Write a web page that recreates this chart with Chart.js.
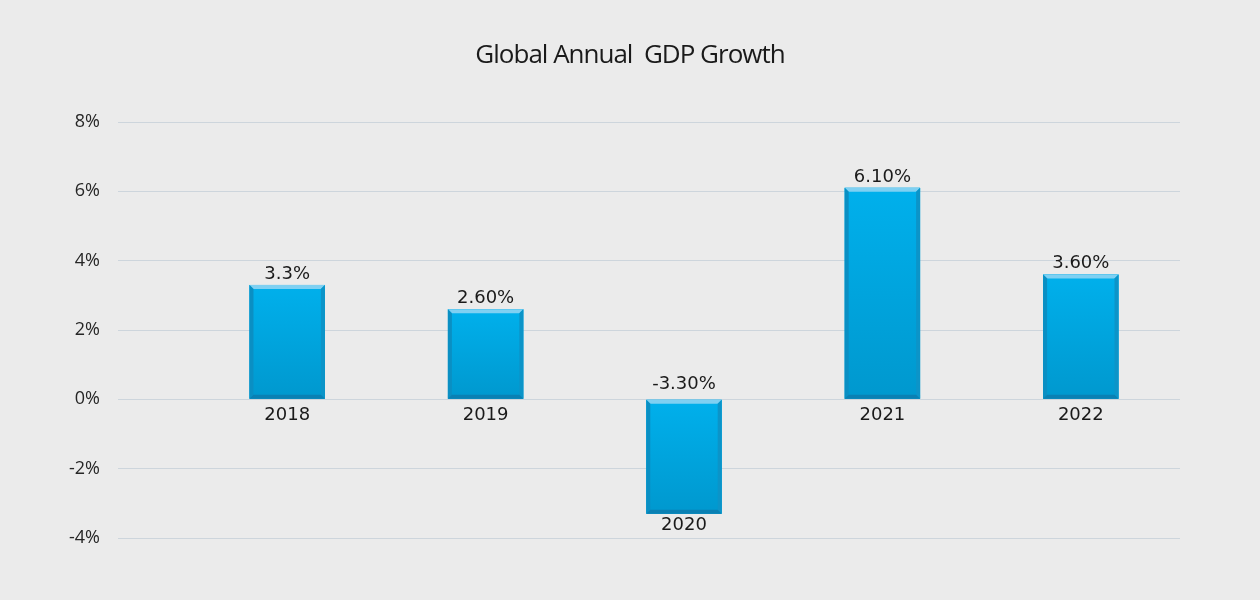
<!DOCTYPE html>
<html>
<head>
<meta charset="utf-8">
<script src="https://cdn.jsdelivr.net/npm/chart.js@4.4.1/dist/chart.umd.min.js"></script>
<style>
  html, body { margin: 0; padding: 0; background: #ebebeb; }
  #wrap { width: 1260px; height: 600px; position: relative; }
</style>
</head>
<body>
<div id="wrap"><canvas id="gdpChart"></canvas></div>
<script>
// GDP growth per year, in percent
var years = ['2018', '2019', '2020', '2021', '2022'];
var growth = [3.3, 2.6, -3.3, 6.1, 3.6];
var valueLabels = ['3.3%', '2.60%', '-3.30%', '6.10%', '3.60%'];
var axisMin = -4;
var axisMax = 8;
var axisStep = 2;
var chartTitle = 'Global Annual  GDP Growth';

// title drawn by hand so the letter spacing can be tightened
var titlePlugin = {
    id: 'titleText',
    beforeDraw: function(chart) {
        var c = chart.ctx;
        c.save();
        c.font = '26px "Open Sans"';
        c.letterSpacing = '-1px';
        c.fillStyle = '#1a1a1a';
        c.textAlign = 'center';
        c.textBaseline = 'middle';
        c.fillText(chartTitle, 630, 56);
        c.restore();
    }
};

// bevelled bars plus the value / year labels
var barDecor = {
    id: 'barDecor',
    afterDatasetsDraw: function(chart) {
        var c = chart.ctx;
        var meta = chart.getDatasetMeta(0);
        meta.data.forEach(function(bar, i) {
            var left = bar.x - bar.width / 2;
            var right = bar.x + bar.width / 2;
            var top = Math.min(bar.y, bar.base);
            var bottom = Math.max(bar.y, bar.base);
            var b = 4;

            c.save();
            var g = c.createLinearGradient(0, top, 0, bottom);
            g.addColorStop(0, '#00b0ec');
            g.addColorStop(1, '#0098ce');
            c.fillStyle = g;
            c.fillRect(left, top, right - left, bottom - top);

            // top edge
            c.fillStyle = '#7fd0f2';
            c.beginPath();
            c.moveTo(left, top); c.lineTo(right, top);
            c.lineTo(right - b, top + b); c.lineTo(left + b, top + b);
            c.closePath(); c.fill();
            // left edge
            c.fillStyle = '#0a8fc3';
            c.beginPath();
            c.moveTo(left, top); c.lineTo(left + b, top + b);
            c.lineTo(left + b, bottom - b); c.lineTo(left, bottom);
            c.closePath(); c.fill();
            // right edge
            c.fillStyle = '#0c94c8';
            c.beginPath();
            c.moveTo(right, top); c.lineTo(right, bottom);
            c.lineTo(right - b, bottom - b); c.lineTo(right - b, top + b);
            c.closePath(); c.fill();
            // bottom edge
            c.fillStyle = '#0a80b3';
            c.beginPath();
            c.moveTo(left, bottom); c.lineTo(right, bottom);
            c.lineTo(right - b, bottom - b); c.lineTo(left + b, bottom - b);
            c.closePath(); c.fill();

            c.fillStyle = '#1a1a1a';
            c.font = '18px "DejaVu Sans"';
            c.textAlign = 'center';
            c.textBaseline = 'middle';
            var lift = growth[i] < 0 ? 16 : 11;
            c.fillText(valueLabels[i], bar.x, top - lift);
            var drop = growth[i] < 0 ? 12 : 16;
            c.fillText(years[i], bar.x, bottom + drop);
            c.restore();
        });
    }
};

var ctx = document.getElementById('gdpChart').getContext('2d');
var gdpChart = new Chart(ctx, {
    type: 'bar',
    data: {
        labels: years,
        datasets: [{
            label: 'GDP Growth',
            data: growth,
            backgroundColor: '#00a6e0',
            borderWidth: 0,
            barPercentage: 0.38,
            categoryPercentage: 1
        }]
    },
    options: {
        responsive: true,
        maintainAspectRatio: false,
        animation: false,
        layout: {
            padding: { top: 122, right: 80, bottom: 62, left: 0 }
        },
        plugins: {
            legend: { display: false },
            title: { display: false },
            tooltip: { enabled: false }
        },
        scales: {
            x: { display: false },
            y: {
                min: axisMin,
                max: axisMax,
                border: { display: false },
                grid: {
                    color: '#cdd5dc',
                    lineWidth: 1,
                    tickLength: 70
                },
                ticks: {
                    stepSize: axisStep,
                    padding: 18,
                    color: '#262626',
                    font: { family: 'Open Sans', size: 18 },
                    callback: function(v) { return v + '%'; }
                },
                afterFit: function(scale) { scale.width = 188; }
            }
        }
    },
    plugins: [titlePlugin, barDecor]
});
</script>
</body>
</html>
